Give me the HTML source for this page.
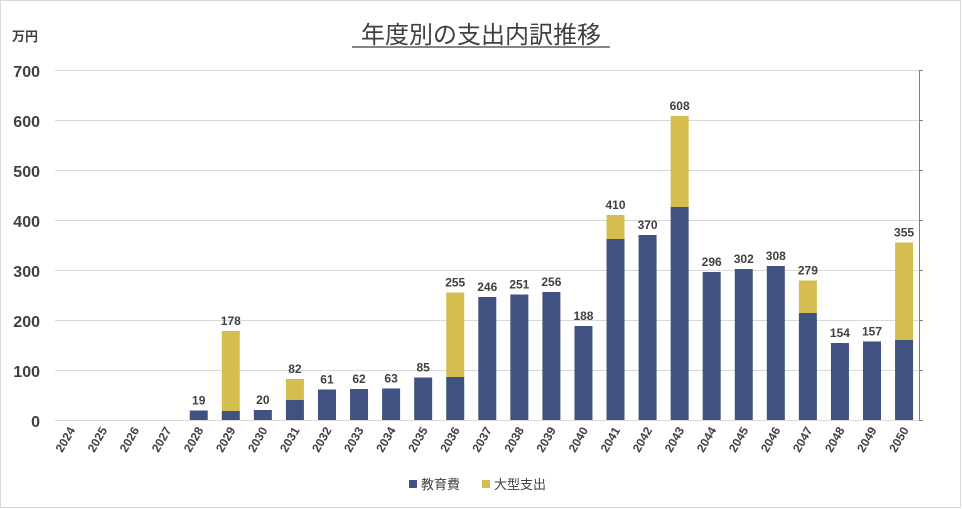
<!DOCTYPE html>
<html><head><meta charset="utf-8"><style>
body{margin:0;background:#fff}
svg{display:block;font-family:"Liberation Sans","Noto Sans CJK JP",sans-serif}
</style></head><body>
<svg width="962" height="509" viewBox="0 0 962 509" xmlns="http://www.w3.org/2000/svg">
<rect x="0.5" y="0.5" width="960" height="507" fill="#fff" stroke="#d9d9d9"/>
<text x="481" y="43" text-anchor="middle" font-size="24" fill="#404040">年度別の支出内訳推移</text>
<line x1="352" y1="47" x2="610" y2="47" stroke="#404040" stroke-width="1.3"/>
<text x="12" y="41" font-size="13" font-weight="bold" fill="#404040">万円</text>
<g stroke="#d9d9d9" stroke-width="1">
<line x1="55" y1="70.5" x2="919" y2="70.5"/><line x1="55" y1="120.5" x2="919" y2="120.5"/>
<line x1="55" y1="170.5" x2="919" y2="170.5"/><line x1="55" y1="220.5" x2="919" y2="220.5"/>
<line x1="55" y1="270.5" x2="919" y2="270.5"/><line x1="55" y1="320.5" x2="919" y2="320.5"/>
<line x1="55" y1="370.5" x2="919" y2="370.5"/><line x1="55" y1="420.5" x2="919" y2="420.5"/>
</g>
<g stroke="#7f7f7f" stroke-width="1">
<line x1="919.5" y1="70" x2="919.5" y2="421"/>
<line x1="919" y1="70.5" x2="923" y2="70.5"/><line x1="919" y1="120.5" x2="923" y2="120.5"/>
<line x1="919" y1="170.5" x2="923" y2="170.5"/><line x1="919" y1="220.5" x2="923" y2="220.5"/>
<line x1="919" y1="270.5" x2="923" y2="270.5"/><line x1="919" y1="320.5" x2="923" y2="320.5"/>
<line x1="919" y1="370.5" x2="923" y2="370.5"/><line x1="919" y1="420.5" x2="923" y2="420.5"/>
</g>
<g font-size="16" font-weight="bold" fill="#404040" text-anchor="end">
<text x="40" y="77">700</text><text x="40" y="127">600</text><text x="40" y="177">500</text>
<text x="40" y="227">400</text><text x="40" y="277">300</text><text x="40" y="327">200</text>
<text x="40" y="377">100</text><text x="40" y="427">0</text>
</g>
<g id="bars"></g>
<g fill="#404040" font-size="12" font-weight="bold" id="lbl"></g>
<g font-size="13" fill="#404040">
<rect x="409" y="480" width="8" height="8" fill="#3f5281"/>
<text x="421" y="489">教育費</text>
<rect x="482" y="480" width="8" height="8" fill="#d6bd50"/>
<text x="494" y="489">大型支出</text>
</g>
<script>
var edu=[0,0,0,0,19,18,20,40,61,62,63,85,86,246,251,256,188,362,370,426,296,302,308,214,154,157,160];
var tot=[0,0,0,0,19,178,20,82,61,62,63,85,255,246,251,256,188,410,370,608,296,302,308,279,154,157,355];
var ns="http://www.w3.org/2000/svg",b=document.getElementById("bars"),l=document.getElementById("lbl");
function el(t,a,p,txt){var e=document.createElementNS(ns,t);for(var k in a)e.setAttribute(k,a[k]);if(txt)e.textContent=txt;p.appendChild(e);}
for(var i=0;i<27;i++){
 var c=70.5+32.06*i,x=c-9;
 if(edu[i]>0)el("rect",{x:x,y:420-edu[i]*0.5,width:18,height:edu[i]*0.5,fill:"#3f5281"},b);
 if(tot[i]>edu[i])el("rect",{x:x,y:420-tot[i]*0.5,width:18,height:(tot[i]-edu[i])*0.5,fill:"#d6bd50"},b);
 if(tot[i]>0)el("text",{x:c,y:420-tot[i]*0.5-6,"text-anchor":"middle"},l,String(tot[i]));
 el("text",{x:c+5,y:430,"text-anchor":"end",transform:"rotate(-60 "+(c+5)+" 430)"},l,String(2024+i));
}
</script>
</svg>
</body></html>
